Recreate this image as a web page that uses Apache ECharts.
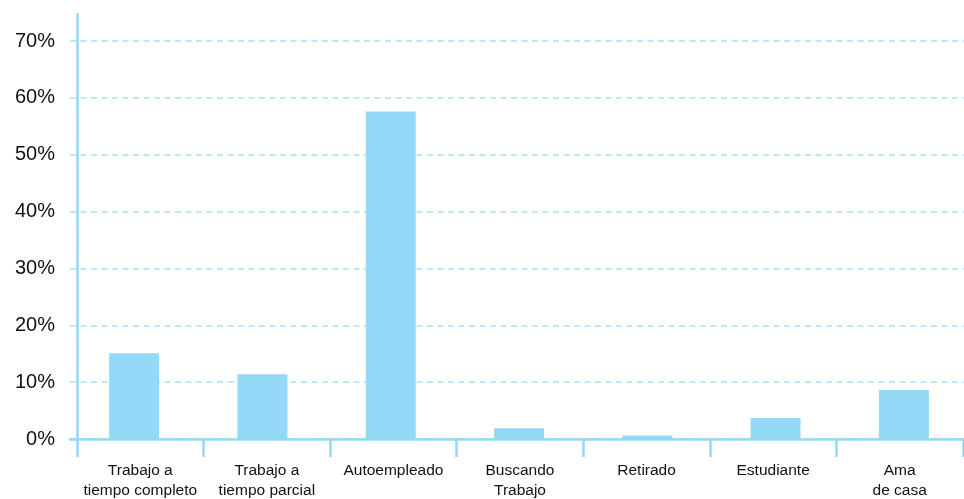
<!DOCTYPE html>
<html><head><meta charset="utf-8">
<script src="https://cdn.jsdelivr.net/npm/echarts@6/dist/echarts.min.js"></script>
<style>html,body{margin:0;padding:0;background:#fff}#c{width:964px;height:499px}</style>
</head><body><div id="c"></div>
<script>
const categories = ['Trabajo a\ntiempo completo','Trabajo a\ntiempo parcial','Autoempleado','Buscando\nTrabajo','Retirado','Estudiante','Ama\nde casa'];
const values = [15.1, 11.4, 57.6, 1.9, 0.6, 3.7, 8.6];
const yTicks = [0, 10, 20, 30, 40, 50, 60, 70];

const blue = '#93d8f7';
const chart = echarts.init(document.getElementById('c'));
chart.setOption({
  animation: false,
  grid: [
    {left: 70, width: 898, top: 41, bottom: 60, outerBoundsMode: 'none'},
    {left: 77, right: 1, top: 14, bottom: 60, outerBoundsMode: 'none'}
  ],
  xAxis: [
    {type: 'category', gridIndex: 0, data: categories,
     axisLine: {show: true, lineStyle: {color: blue, width: 2.5}},
     axisTick: {show: false}, axisLabel: {show: false}},
    {type: 'category', gridIndex: 1, data: categories,
     axisLine: {show: false},
     axisTick: {show: true, length: 18, lineStyle: {color: blue, width: 2.5}},
     axisLabel: {margin: 22, fontFamily: 'Liberation Sans, Arial, sans-serif', fontSize: 15.5, lineHeight: 20, color: '#111', interval: 0}}
  ],
  yAxis: [
    {type: 'value', gridIndex: 0, min: yTicks[0], max: yTicks[yTicks.length-1], interval: 10,
     axisLine: {show: false}, axisTick: {show: false},
     axisLabel: {margin: 15, formatter: '{value}%', fontFamily: 'Liberation Sans, Arial, sans-serif', fontSize: 20, color: '#111'},
     splitLine: {show: true, lineStyle: {color: '#a9e0f7', width: 1.5, type: [6, 4.5]}}},
    {type: 'value', gridIndex: 1, min: 0, max: 1,
     axisLine: {show: true, lineStyle: {color: blue, width: 2.5}},
     axisTick: {show: false}, axisLabel: {show: false}, splitLine: {show: false}}
  ],
  series: [{
    type: 'bar', xAxisIndex: 0, yAxisIndex: 0, data: values, barWidth: 50,
    itemStyle: {color: blue}
  }]
});
</script></body></html>
